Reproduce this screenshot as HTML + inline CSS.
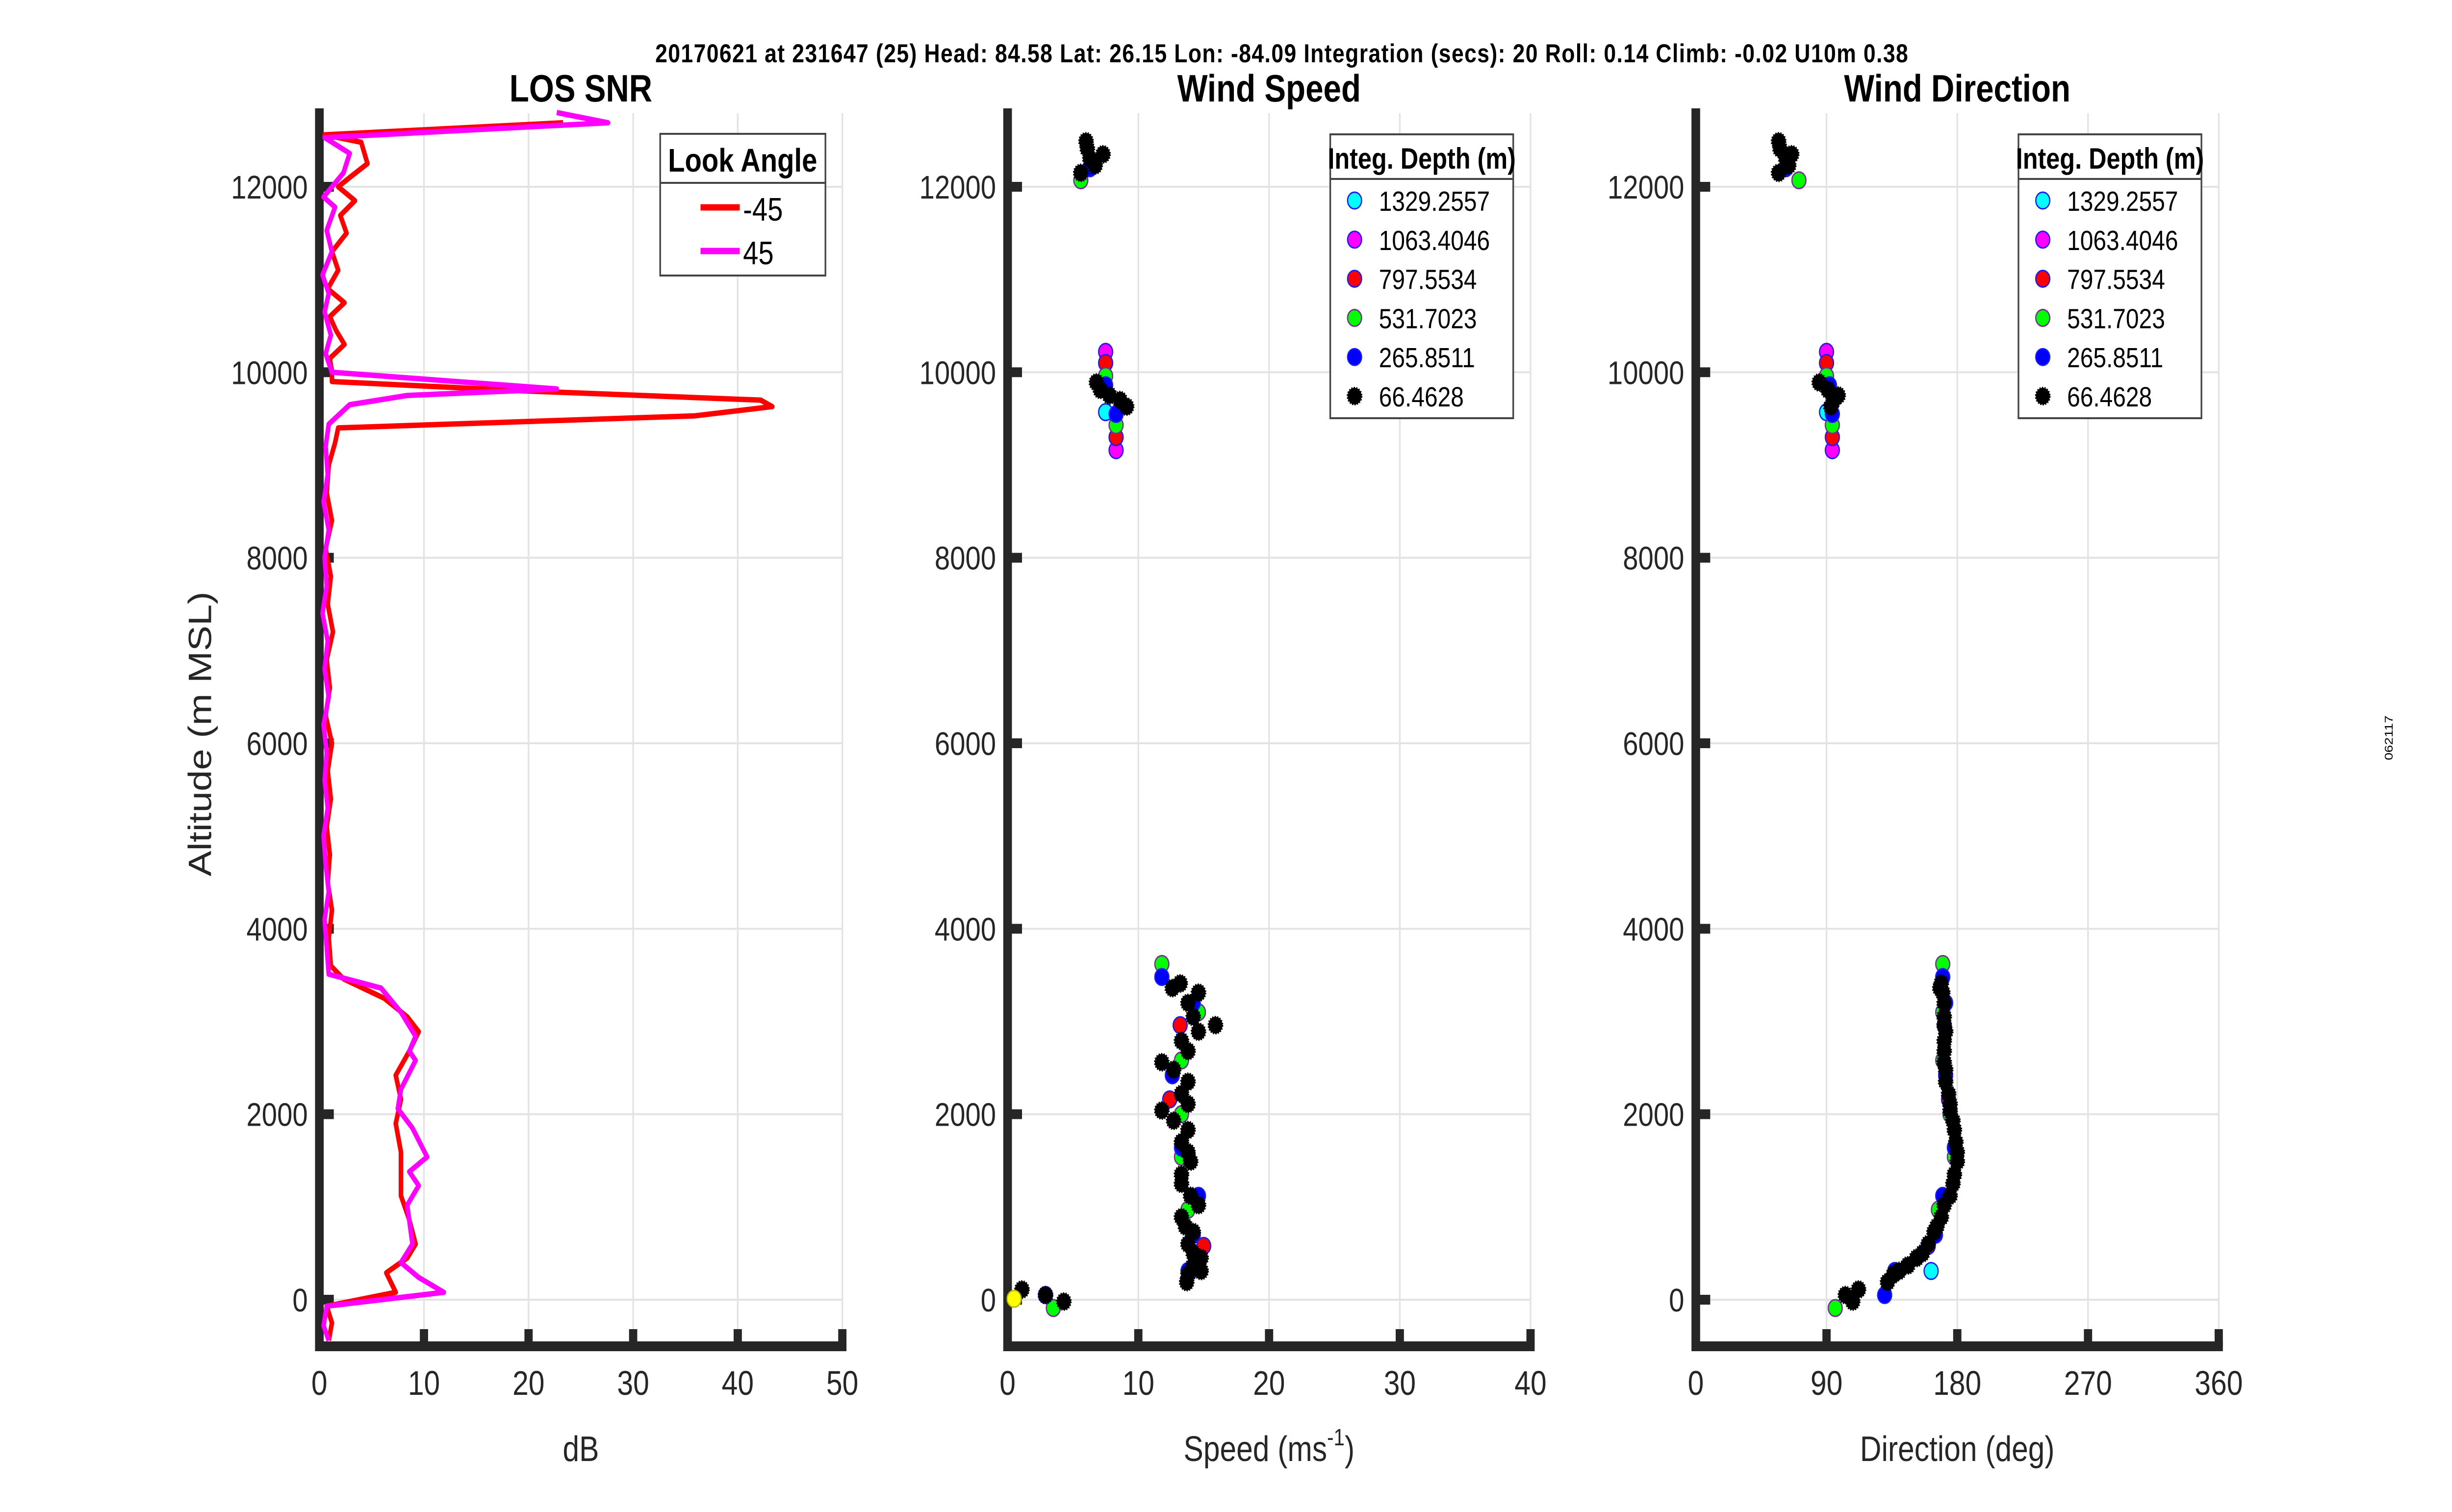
<!DOCTYPE html>
<html><head><meta charset="utf-8"><style>
html,body{margin:0;padding:0;background:#fff;overflow:hidden;width:100%;height:100%;}
svg{display:block;font-family:"Liberation Sans",Arial,sans-serif;width:100vw;height:100vh;}
</style></head><body>
<svg id="fig" viewBox="0 0 5950 3084" preserveAspectRatio="none" xmlns="http://www.w3.org/2000/svg">
<rect width="5950" height="3084" fill="#fff"/>
<text x="1590" y="127" font-size="53" font-weight="bold" textLength="3040" lengthAdjust="spacing">20170621 at 231647 (25)  Head: 84.58  Lat: 26.15  Lon: -84.09  Integration (secs): 20  Roll: 0.14  Climb: -0.02  U10m 0.38</text>
<text x="0" y="0" font-size="28" transform="translate(5806,1505) rotate(-90)" text-anchor="middle">062117</text>
<g id="layer"></g>
</svg>
<script>
// ---- data ----
const snrAltRed = [12690,12560,12480,12250,12100,12000,11850,11690,11500,11300,11100,10900,10750,10600,10450,10300,10150,10000,9900,9800,9700,9630,9530,9400,9240,9000,8700,8400,8100,7800,7500,7200,6900,6600,6300,6000,5700,5400,5100,4800,4500,4200,3900,3600,3460,3250,3050,2890,2680,2420,2160,1900,1590,1120,860,600,450,290,80,-70,-250,-440];
const snrRed    = [23.3,0.5,4.0,4.6,2.9,1.8,3.4,2.0,2.6,1.2,1.8,0.8,2.4,1.0,1.6,2.4,1.0,1.2,1.2,19.4,42.2,43.3,35.9,1.8,1.5,0.9,0.7,1.2,0.6,1.1,0.8,1.3,0.7,1.0,0.6,1.2,0.8,1.1,0.7,1.0,0.8,1.2,0.9,1.1,2.3,6.2,8.4,9.5,8.6,7.3,7.8,7.3,7.8,7.8,8.6,9.2,8.4,6.4,7.3,0.7,1.2,0.9];
const snrAltMag = [12800,12690,12530,12360,12150,11890,11780,11530,11300,11050,10850,10650,10400,10200,10000,9820,9750,9650,9440,9200,8900,8600,8300,8000,7700,7400,7100,6800,6500,6200,5900,5600,5300,5000,4700,4400,4100,3800,3510,3360,3100,2840,2680,2580,2270,2060,1850,1540,1380,1230,1020,600,400,240,80,-70,-280,-440];
const snrMag    = [22.7,27.6,0.5,2.9,2.3,0.4,1.5,0.7,1.2,0.3,0.9,0.5,1.1,0.6,1.2,22.7,8.4,2.9,0.9,0.6,0.8,0.4,0.9,0.5,0.7,0.3,0.8,0.5,0.9,0.4,0.7,0.5,0.8,0.4,0.6,0.9,0.5,0.7,0.9,5.9,7.8,9.2,8.6,9.2,7.8,7.5,8.9,10.3,8.6,9.5,8.4,8.9,7.8,9.5,11.9,0.7,0.4,0.9];

const depthLabels = ["1329.2557","1063.4046","797.5534","531.7023","265.8511","66.4628"];
const depthColors = ["#00ffff","#ff00ff","#ff0000","#00ff00","#0000ff","#000000"];
const altCyan = [9570,310];            const spdCyan = [7.5,14.0];  const dirCyan = [90,162];
const altMagenta = [10220,9160];       const spdMagenta = [7.5,8.3]; const dirMagenta = [90,94];
const altRed = [10100,9300,2960,2160,580]; const spdRed = [7.5,8.3,13.2,12.4,15.0]; const dirRed = [90,94,171,174,160];
const altGreen = [12070,9960,9430,3620,3100,2580,2000,1540,970,-90];
const spdGreen = [5.6,7.5,8.3,11.8,14.6,13.3,13.3,13.3,13.8,3.5];
const dirGreen = [71,90,94,170,170,170,175,178,167,96];
const altBlue = [12200,9860,9550,3480,3200,2420,1640,1120,700,310,50];
const spdBlue = [6.3,7.5,8.3,11.8,14.2,12.6,13.3,14.6,14.2,13.8,2.9];
const dirBlue = [62,92,94,170,172,172,178,170,165,137,130];
const altBlack = [12490,12410,12300,12350,12150,12230,9890,9810,9750,9700,9630,3410,3360,3310,3200,3050,2960,2890,2790,2680,2560,2480,2350,2220,2110,2040,1930,1830,1700,1590,1490,1350,1250,1120,1020,890,790,730,600,500,450,370,310,270,190,110,50,-20];
const spdBlack = [6.0,6.1,6.3,7.3,5.6,6.7,6.8,7.1,7.8,8.6,9.1,13.2,12.6,14.6,13.8,14.2,15.9,14.6,13.3,13.8,11.8,12.7,13.8,13.3,13.8,11.8,12.7,13.8,13.3,13.8,14.0,13.3,13.3,14.0,14.6,13.3,13.6,14.2,13.8,14.2,14.8,14.2,14.8,13.8,13.7,1.1,2.9,4.3];
const dirBlack = [57,58,62,66,57,64,85,91,98,95,93,169,168,170,171,171,171,172,171,171,171,172,172,174,175,175,177,178,179,180,180,178,177,175,171,169,166,164,160,156,152,146,140,136,132,112,103,108];
const altYellow = [10]; const spdYellow = [0.5];

const yTicks = [0,2000,4000,6000,8000,10000,12000];
const xTicks1 = [0,10,20,30,40,50];
const xTicks2 = [0,10,20,30,40];
const xTicks3 = [0,90,180,270,360];

// ---- layout ----
const NS="http://www.w3.org/2000/svg";
const layer=document.getElementById('layer');
const W=1269, Y0=2651, YTOP=221, YBOT=2746, PERM=0.18917;
const yS=a=>Y0-a*PERM;
function mk(tag,attrs,parent){const e=document.createElementNS(NS,tag);for(const k in attrs)e.setAttribute(k,attrs[k]);(parent||layer).appendChild(e);return e;}

function axes(L,xmax,ticks,title,xlabel,name){
  const g=mk('g',{});
  
  
  const xS=v=>L+v/xmax*W;
  ticks.forEach(t=>{ if(t>0){const l=mk('line',{x1:xS(t),x2:xS(t),y1:YTOP+10,y2:YBOT,stroke:'#e3e3e3','stroke-width':4},g);
    
    }});
  yTicks.forEach(t=>{const l=mk('line',{x1:L,x2:L+W,y1:yS(t),y2:yS(t),stroke:'#e3e3e3','stroke-width':4},g);
    
    });
  const ax=mk('line',{x1:L,x2:L,y1:YTOP,y2:YBOT+10,stroke:'#262626','stroke-width':21},g);
  
  
  const bx=mk('line',{x1:L-10,x2:L+W+10,y1:YBOT,y2:YBOT,stroke:'#262626','stroke-width':20},g);
  
  
  yTicks.forEach(t=>{
    const tk=mk('line',{x1:L,x2:L+35,y1:yS(t),y2:yS(t),stroke:'#262626','stroke-width':20},g);
    
    
    const tx=mk('text',{x:L-28,y:yS(t)+24,'font-size':67,'text-anchor':'end',fill:'#262626'},g);
    tx.textContent=t;
    
    
  });
  ticks.forEach(t=>{
    if(t>0){const tk=mk('line',{x1:xS(t),x2:xS(t),y1:YBOT,y2:YBOT-35,stroke:'#262626','stroke-width':20},g);
    
    }
    const tx=mk('text',{x:xS(t),y:2845,'font-size':70,'text-anchor':'middle',fill:'#262626'},g);
    tx.textContent=t;
    
    
  });
  const tt=mk('text',{x:L+W/2,y:207,'font-size':78,'font-weight':'bold','text-anchor':'middle'},g);
  tt.textContent=title;
  
  
  const xl=mk('text',{x:L+W/2,y:2980,'font-size':72,'text-anchor':'middle',fill:'#262626'},g);
  if(xlabel==='speed'){xl.innerHTML='Speed (ms<tspan font-size="48" dy="-32">-1</tspan><tspan dy="32">)</tspan>';}
  else xl.textContent=xlabel;
  
  
  return xS;
}
const L1=775,L2=2445,L3=4115;
const x1=axes(L1,50,xTicks1,'LOS SNR','dB','snr');
const x2=axes(L2,40,xTicks2,'Wind Speed','speed','wind-speed');
const x3=axes(L3,360,xTicks3,'Wind Direction','Direction (deg)','wind-direction');

const yl=mk('text',{x:0,y:0,'font-size':78,'text-anchor':'middle',fill:'#262626',transform:'translate(512,1497) rotate(-90)'});
yl.textContent='Altitude (m MSL)';



function line(alts,vals,color,name){
  const d=alts.map((a,i)=>(i?'L':'M')+x1(vals[i]).toFixed(1)+' '+yS(a).toFixed(1)).join(' ');
  const p=mk('path',{d:d,fill:'none',stroke:color,'stroke-width':11,'stroke-linejoin':'round'});
  
  
}
line(snrAltRed,snrRed,'#ff0000','snr-line-minus45');
line(snrAltMag,snrMag,'#ff00ff','snr-line-45');

const sets=[
 [altCyan,spdCyan,dirCyan,0],[altMagenta,spdMagenta,dirMagenta,1],[altRed,spdRed,dirRed,2],
 [altGreen,spdGreen,dirGreen,3],[altBlue,spdBlue,dirBlue,4],[altBlack,spdBlack,dirBlack,5]];
function dot(cx,cy,ci,name){
  const edge = ci===5?'#000':(ci===3?'#7a2a9a':'#1a1aff');
  const c=mk('circle',{cx:cx,cy:cy,r:17,fill:depthColors[ci],stroke:edge,'stroke-width':ci===5?4:3});
  if(ci===5) c.setAttribute('stroke-dasharray','3 3');
  
  
}
sets.forEach(s=>{
  const [A,S,D,ci]=s;
  A.forEach((a,i)=>{
    dot(x2(S[i]),yS(a),ci,'speed-point-'+depthLabels[ci]);
    dot(x3(D[i]),yS(a),ci,'direction-point-'+depthLabels[ci]);
  });
});
altYellow.forEach((a,i)=>{
  const c=mk('circle',{cx:x2(spdYellow[i]),cy:yS(a),r:17,fill:'#ffff00',stroke:'#bbbb00','stroke-width':3});
  
  
});

(function(){
  const g=mk('g',{});
  
  
  mk('rect',{x:1602,y:273,width:401,height:289,fill:'#fff',stroke:'#444','stroke-width':4},g);
  mk('line',{x1:1602,x2:2003,y1:373,y2:373,stroke:'#444','stroke-width':4},g);
  const h=mk('text',{x:1802,y:350,'font-size':67,'font-weight':'bold','text-anchor':'middle'},g); h.textContent='Look Angle';
  
  
  [['-45','#ff0000',423],['45','#ff00ff',512]].forEach(e=>{
    const l=mk('line',{x1:1700,x2:1795,y1:e[2],y2:e[2],stroke:e[1],'stroke-width':13},g);
    
    
    const t=mk('text',{x:1803,y:e[2]+27,'font-size':67},g); t.textContent=e[0];
    
    
  });
})();
[0,1670].forEach((off,k)=>{
  const g=mk('g',{});
  
  
  mk('rect',{x:3228+off,y:274,width:444,height:579,fill:'#fff',stroke:'#444','stroke-width':4},g);
  mk('line',{x1:3228+off,x2:3672+off,y1:365,y2:365,stroke:'#444','stroke-width':4},g);
  const h=mk('text',{x:3450+off,y:344,'font-size':60,'font-weight':'bold','text-anchor':'middle'},g); h.textContent='Integ. Depth (m)';
  
  
  depthLabels.forEach((lab,i)=>{
    const y=409+79.8*i;
    dot(3287+off,y,i,'legend-marker');
    const t=mk('text',{x:3346+off,y:y+21,'font-size':57},g); t.textContent=lab;
    
    
  });
});
</script>
</body></html>
